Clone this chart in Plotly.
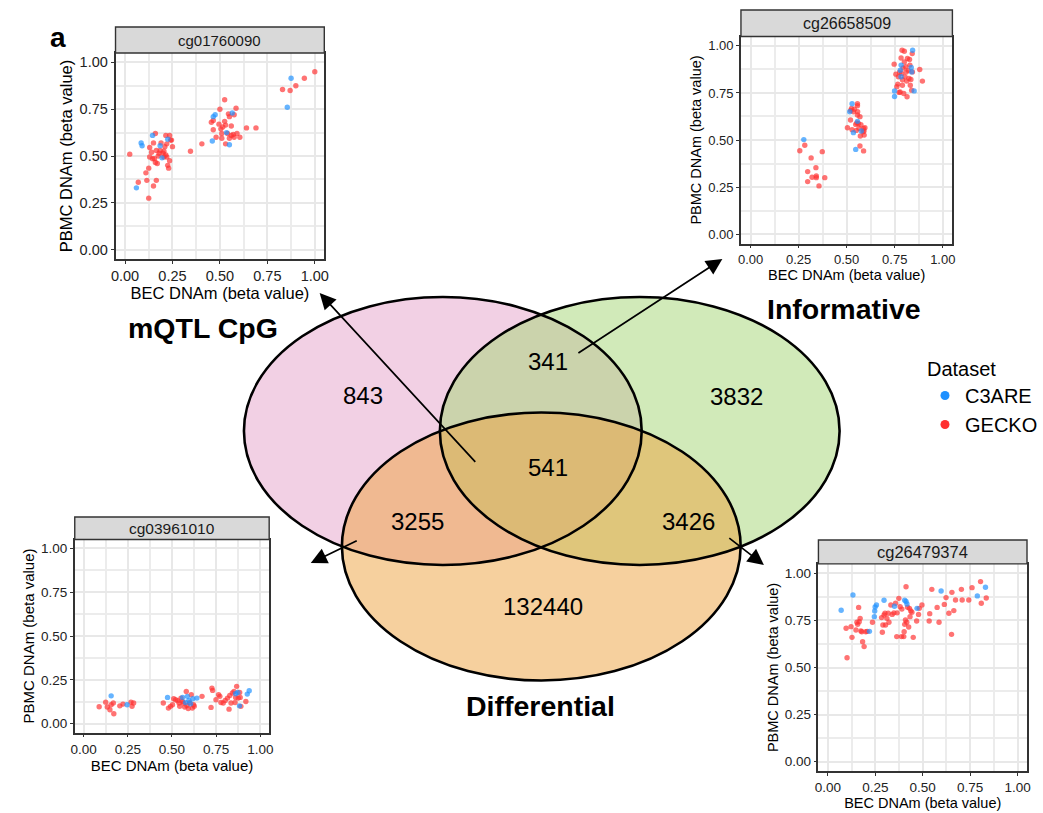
import plotly.graph_objects as go

W, H = 1043, 813
FONT = "Liberation Sans, Arial, Helvetica, sans-serif"

# ---------------- Venn data ----------------
set_names = ["mQTL CpG", "Informative", "Differential"]
venn_regions = ["mQTL only", "mQTL & Informative", "Informative only", "all three",
                "mQTL & Differential", "Informative & Differential", "Differential only"]
venn_counts = [843, 341, 3832, 541, 3255, 3426, 132440]

# ---------------- scatter data ----------------
probe_ids = ["cg01760090", "cg26658509", "cg03961010", "cg26479374"]
dataset_names = ["C3ARE", "GECKO"]

# cg01760090
p1_c3are_x = [0.06, 0.085, 0.09, 0.145, 0.185, 0.195, 0.225, 0.46, 0.465, 0.475, 0.535, 0.55, 0.565, 0.855, 0.875]
p1_c3are_y = [0.33, 0.57, 0.555, 0.61, 0.555, 0.49, 0.59, 0.58, 0.71, 0.72, 0.625, 0.56, 0.73, 0.76, 0.915]
p1_gecko_x = [0.025, 0.07, 0.11, 0.115, 0.125, 0.125, 0.13, 0.13, 0.14, 0.145, 0.15, 0.15, 0.155, 0.16, 0.16,
              0.165, 0.165, 0.17, 0.175, 0.18, 0.185, 0.19, 0.2, 0.205, 0.205, 0.21, 0.215, 0.215, 0.22, 0.225,
              0.23, 0.235, 0.235, 0.24, 0.245, 0.25, 0.22,
              0.345, 0.405, 0.455, 0.465, 0.465, 0.48, 0.495, 0.50, 0.505, 0.51, 0.51, 0.515, 0.525, 0.525, 0.53,
              0.53, 0.54, 0.545, 0.55, 0.55, 0.56, 0.56, 0.57, 0.575, 0.575, 0.585, 0.59, 0.605, 0.64, 0.69,
              0.83, 0.87, 0.90, 0.945, 1.0]
p1_gecko_y = [0.51, 0.36, 0.41, 0.37, 0.435, 0.275, 0.545, 0.495, 0.52, 0.485, 0.57, 0.34, 0.485, 0.465, 0.62,
              0.53, 0.37, 0.46, 0.50, 0.515, 0.53, 0.57, 0.515, 0.525, 0.495, 0.55, 0.505, 0.61, 0.565, 0.45,
              0.435, 0.475, 0.61, 0.585, 0.585, 0.55, 0.495,
              0.525, 0.565, 0.68, 0.69, 0.64, 0.60, 0.67, 0.75, 0.645, 0.62, 0.595, 0.655, 0.80, 0.685, 0.665,
              0.565, 0.62, 0.725, 0.71, 0.595, 0.66, 0.61, 0.615, 0.72, 0.60, 0.755, 0.62, 0.60, 0.65, 0.65,
              0.855, 0.85, 0.875, 0.915, 0.95]

# cg26658509
p2_c3are_x = [0.277, 0.516, 0.528, 0.535, 0.547, 0.556, 0.576, 0.749, 0.749, 0.779, 0.783, 0.783, 0.836, 0.838, 0.843, 0.851]
p2_c3are_y = [0.502, 0.65, 0.693, 0.539, 0.45, 0.599, 0.548, 0.76, 0.731, 0.871, 0.898, 0.836, 0.885, 0.862, 0.977, 0.761]
p2_gecko_x = [0.256, 0.282, 0.297, 0.297, 0.315, 0.32, 0.34, 0.342, 0.342, 0.356, 0.373, 0.386,
              0.504, 0.52, 0.521, 0.525, 0.528, 0.535, 0.54, 0.547, 0.55, 0.556, 0.557, 0.556, 0.561, 0.564,
              0.569, 0.571, 0.574, 0.569, 0.585, 0.588, 0.588, 0.591, 0.595, 0.59, 0.556, 0.553,
              0.747, 0.756, 0.761, 0.766, 0.769, 0.773, 0.778, 0.783, 0.786, 0.788, 0.79, 0.793, 0.797, 0.80,
              0.80, 0.803, 0.807, 0.81, 0.812, 0.814, 0.816, 0.82, 0.824, 0.827, 0.829, 0.831, 0.834, 0.838,
              0.841, 0.842, 0.88, 0.894, 0.775, 0.79]
p2_gecko_y = [0.443, 0.472, 0.332, 0.279, 0.405, 0.302, 0.353, 0.309, 0.30, 0.256, 0.438, 0.30,
              0.565, 0.606, 0.657, 0.668, 0.555, 0.65, 0.664, 0.583, 0.551, 0.693, 0.65, 0.633, 0.588, 0.562,
              0.624, 0.521, 0.581, 0.468, 0.544, 0.562, 0.442, 0.526, 0.565, 0.548, 0.682, 0.59,
              0.903, 0.85, 0.783, 0.797, 0.836, 0.753, 0.755, 0.936, 0.853, 0.977, 0.791, 0.883, 0.747, 0.972,
              0.915, 0.836, 0.89, 0.862, 0.813, 0.73, 0.933, 0.87, 0.827, 0.928, 0.898, 0.791, 0.822, 0.765,
              0.959, 0.862, 0.875, 0.813, 0.86, 0.82]

# cg03961010
p3_c3are_x = [0.156, 0.246, 0.475, 0.56, 0.577, 0.587, 0.596, 0.605, 0.618, 0.641, 0.86, 0.872, 0.882, 0.926, 0.937]
p3_c3are_y = [0.159, 0.108, 0.15, 0.15, 0.121, 0.156, 0.133, 0.114, 0.142, 0.146, 0.171, 0.178, 0.102, 0.169, 0.188]
p3_gecko_x = [0.088, 0.125, 0.134, 0.149, 0.156, 0.168, 0.171, 0.205, 0.223, 0.268, 0.274, 0.283,
              0.451, 0.48, 0.492, 0.503, 0.51, 0.521, 0.533, 0.54, 0.544, 0.551, 0.559, 0.565, 0.572, 0.581,
              0.585, 0.592, 0.60, 0.609, 0.615, 0.622, 0.626, 0.67,
              0.721, 0.726, 0.73, 0.749, 0.764, 0.771, 0.777, 0.79, 0.801, 0.814, 0.823, 0.827, 0.834, 0.842,
              0.851, 0.857, 0.86, 0.866, 0.875, 0.883, 0.886, 0.89, 0.918]
p3_gecko_y = [0.097, 0.123, 0.095, 0.08, 0.108, 0.118, 0.057, 0.102, 0.112, 0.123, 0.099, 0.118,
              0.118, 0.089, 0.099, 0.108, 0.142, 0.137, 0.131, 0.118, 0.099, 0.146, 0.127, 0.118, 0.095, 0.184,
              0.104, 0.087, 0.12, 0.165, 0.089, 0.108, 0.1, 0.156,
              0.093, 0.203, 0.19, 0.137, 0.165, 0.156, 0.121, 0.118, 0.133, 0.146, 0.083, 0.161, 0.118, 0.175,
              0.184, 0.121, 0.15, 0.213, 0.146, 0.178, 0.15, 0.099, 0.127]

# cg26479374
p4_c3are_x = [0.07, 0.132, 0.219, 0.245, 0.247, 0.249, 0.256, 0.296, 0.351, 0.405, 0.412, 0.417, 0.47, 0.597, 0.831, 0.788]
p4_c3are_y = [0.804, 0.885, 0.692, 0.77, 0.80, 0.821, 0.832, 0.857, 0.825, 0.857, 0.85, 0.837, 0.814, 0.906, 0.926, 0.88]
p4_gecko_x = [0.096, 0.101, 0.122, 0.127, 0.148, 0.153, 0.157, 0.162, 0.165, 0.17,
              0.174, 0.179, 0.183, 0.191, 0.2, 0.207, 0.235, 0.283, 0.287, 0.29,
              0.296, 0.301, 0.304, 0.311, 0.318, 0.322, 0.332, 0.339, 0.348, 0.357,
              0.363, 0.365, 0.374, 0.381, 0.388, 0.39, 0.40, 0.402, 0.405, 0.409,
              0.412, 0.416, 0.42, 0.426, 0.43, 0.433, 0.437, 0.443, 0.45, 0.468,
              0.478, 0.482, 0.496, 0.534, 0.537, 0.548, 0.576, 0.586, 0.614, 0.623,
              0.638, 0.652, 0.654, 0.664, 0.673, 0.704, 0.708, 0.743, 0.76, 0.805,
              0.809, 0.835]
p4_gecko_y = [0.708, 0.552, 0.717, 0.66, 0.699, 0.74, 0.729, 0.819, 0.743, 0.761,
              0.694, 0.69, 0.637, 0.611, 0.69, 0.692, 0.74, 0.765, 0.687, 0.726,
              0.779, 0.788, 0.726, 0.761, 0.788, 0.74, 0.832, 0.782, 0.79, 0.841,
              0.664, 0.79, 0.867, 0.823, 0.664, 0.81, 0.664, 0.69, 0.729, 0.752,
              0.929, 0.74, 0.82, 0.715, 0.814, 0.77, 0.80, 0.793, 0.66, 0.747,
              0.782, 0.814, 0.832, 0.747, 0.786, 0.915, 0.819, 0.74, 0.835, 0.871,
              0.788, 0.676, 0.899, 0.802, 0.858, 0.915, 0.858, 0.858, 0.924, 0.956,
              0.841, 0.869]

axis_ticks = [0.0, 0.25, 0.5, 0.75, 1.0]

# ---------------- styling / layout ----------------
BLUE = "rgb(30,144,255)"
RED = "rgb(255,48,48)"
BLUE_A = "rgba(30,144,255,0.68)"
RED_A = "rgba(255,48,48,0.68)"

panels = [
    dict(cx=p1_c3are_x, cy=p1_c3are_y, gx=p1_gecko_x, gy=p1_gecko_y,
         box=(111.7, 322.7, 53, 259), strip_top=27, tick=14.5, title=16.5, strip=15, xst=3, yst=3),
    dict(cx=p2_c3are_x, cy=p2_c3are_y, gx=p2_gecko_x, gy=p2_gecko_y,
         box=(743.8, 957.5, 36.5, 243.5), strip_top=10, tick=13, title=14.5, strip=16, xst=3, yst=3),
    dict(cx=p3_c3are_x, cy=p3_c3are_y, gx=p3_gecko_x, gy=p3_gecko_y,
         box=(70.5, 267.0, 539.5, 732.5), strip_top=517, tick=13.5, title=15, strip=15.5, xst=3, yst=3),
    dict(cx=p4_c3are_x, cy=p4_c3are_y, gx=p4_gecko_x, gy=p4_gecko_y,
         box=(822.1, 1032.9, 563.9, 771.1), strip_top=540, tick=13.5, title=14.5, strip=16.5, xst=3, yst=3),
]

fig = go.Figure()

# legend-only entries (drawn on the full-page overlay axes, no data)
for name, col in zip(dataset_names, [BLUE, RED]):
    fig.add_trace(go.Scatter(x=[None], y=[None], mode="markers", name=name,
                             marker=dict(color=col, size=9), xaxis="x", yaxis="y",
                             legendgroup=name, showlegend=True))

layout_axes = {}
shapes = []
annotations = []

def px_x(v):
    return v / W

def px_y(v):
    return 1 - v / H

for i, p in enumerate(panels):
    k = i + 2
    xa, ya = f"x{k}", f"y{k}"
    fig.add_trace(go.Scatter(x=p["gx"], y=p["gy"], mode="markers", name="GECKO",
                             marker=dict(color=RED_A, size=5.4, line=dict(width=0)),
                             xaxis=xa, yaxis=ya, legendgroup="GECKO", showlegend=False))
    fig.add_trace(go.Scatter(x=p["cx"], y=p["cy"], mode="markers", name="C3ARE",
                             marker=dict(color=BLUE_A, size=5.4, line=dict(width=0)),
                             xaxis=xa, yaxis=ya, legendgroup="C3ARE", showlegend=False))
    l, r, t, b = p["box"]
    common = dict(range=[-0.05, 1.05], tickvals=axis_ticks, tickformat=".2f",
                  showgrid=True, gridcolor="#e8e8e8", gridwidth=2.3,
                  minor=dict(dtick=0.125, tick0=0.125, showgrid=True, gridcolor="#ececec", gridwidth=1.6, ticks=""),
                  zeroline=False, showline=True, mirror=True, linecolor="#333333", linewidth=1.6,
                  ticks="outside", ticklen=3, tickwidth=1.3, tickcolor="#333333",
                  tickfont=dict(size=p["tick"], color="#222222", family=FONT), fixedrange=True)
    layout_axes[f"xaxis{k}"] = dict(common, domain=[px_x(l), px_x(r)], anchor=ya,
                                   title=dict(text="BEC DNAm (beta value)", standoff=p["xst"],
                                              font=dict(size=p["title"], color="black", family=FONT)))
    layout_axes[f"yaxis{k}"] = dict(common, domain=[px_y(b), px_y(t)], anchor=xa,
                                   title=dict(text="PBMC DNAm (beta value)", standoff=p["yst"],
                                              font=dict(size=p["title"], color="black", family=FONT)))
    # facet strip
    shapes.append(dict(type="rect", xref="paper", yref="paper",
                       x0=px_x(l), x1=px_x(r), y0=px_y(t), y1=px_y(p["strip_top"]),
                       fillcolor="#d9d9d9", line=dict(color="#333333", width=1.4), layer="above"))
    annotations.append(dict(xref="paper", yref="paper", x=px_x((l + r) / 2),
                            y=px_y((t + p["strip_top"]) / 2), text=probe_ids[i], showarrow=False,
                            xanchor="center", yanchor="middle",
                            font=dict(size=p["strip"], color="#1a1a1a", family=FONT)))

# ---------------- Venn ellipses (full-page pixel axes) ----------------
ellipses = [  # cx, cy, rx, ry, base colour
    (442.5, 431.0, 201.0, 134.0, "rgba(229,161,201,0.5)"),
    (641.5, 431.0, 202.0, 134.0, "rgba(163,213,115,0.5)"),
    (542.0, 546.5, 201.5, 134.0, "rgba(237,161,61,0.5)"),
]
for cx, cy, rx, ry, col in ellipses:
    shapes.append(dict(type="circle", xref="x", yref="y", x0=cx - rx, x1=cx + rx,
                       y0=cy - ry, y1=cy + ry, fillcolor=col, line=dict(width=0), layer="above"))
for cx, cy, rx, ry, col in ellipses:
    shapes.append(dict(type="circle", xref="x", yref="y", x0=cx - rx, x1=cx + rx,
                       y0=cy - ry, y1=cy + ry, fillcolor="rgba(0,0,0,0)",
                       line=dict(color="black", width=2.6), layer="above"))

count_pos = [(361.7, 395.5), (548.8, 361), (739.7, 396), (548.8, 467.5),
             (416.7, 521), (690.3, 521), (544.0, 606.5)]
for (x, y), c in zip(count_pos, venn_counts):
    annotations.append(dict(xref="x", yref="y", x=x, y=y, text=str(c), showarrow=False,
                            xanchor="center", yanchor="middle",
                            font=dict(size=24, color="black", family=FONT)))

name_pos = [(200, 328), (848, 309), (541, 706)]
for (x, y), n in zip(name_pos, set_names):
    annotations.append(dict(xref="x", yref="y", x=x, y=y, text=f"<b>{n}</b>", showarrow=False,
                            xanchor="center", yanchor="middle",
                            font=dict(size=28.5, color="black", family=FONT)))

annotations.append(dict(xref="x", yref="y", x=54, y=37, text="<b>a</b>", showarrow=False,
                        xanchor="center", yanchor="middle", font=dict(size=28, color="black", family=FONT)))

# arrows: tail (region) -> tip (inset)
arrows = [((476.7, 463.3), (318.0, 293.0)),
          ((578.0, 354.0), (725.0, 259.0)),
          ((357.0, 540.0), (309.0, 563.0)),
          ((730.5, 537.0), (767.0, 565.0))]
for (tx, ty), (hx, hy) in arrows:
    annotations.append(dict(xref="x", yref="y", axref="x", ayref="y", x=hx, y=hy, ax=tx, ay=ty,
                            text="", showarrow=True, arrowhead=2, arrowsize=1.9, arrowwidth=1.7,
                            arrowcolor="black", standoff=0, startstandoff=0))

fig.update_layout(
    width=W, height=H, autosize=False,
    margin=dict(l=0, r=0, t=0, b=0, pad=0),
    paper_bgcolor="white", plot_bgcolor="white",
    font=dict(family=FONT, color="black"),
    xaxis=dict(domain=[0, 1], range=[0, W], visible=False, fixedrange=True),
    yaxis=dict(domain=[0, 1], range=[H, 0], visible=False, fixedrange=True),
    shapes=shapes, annotations=annotations,
    legend=dict(title=dict(text="Dataset", font=dict(size=20, family=FONT, color="black")),
                font=dict(size=20, family=FONT, color="black"),
                x=px_x(930), xanchor="left", y=px_y(350), yanchor="top",
                bgcolor="rgba(0,0,0,0)", itemwidth=30, tracegroupgap=0),
    showlegend=True,
    **layout_axes,
)

fig.write_html("out.html")
